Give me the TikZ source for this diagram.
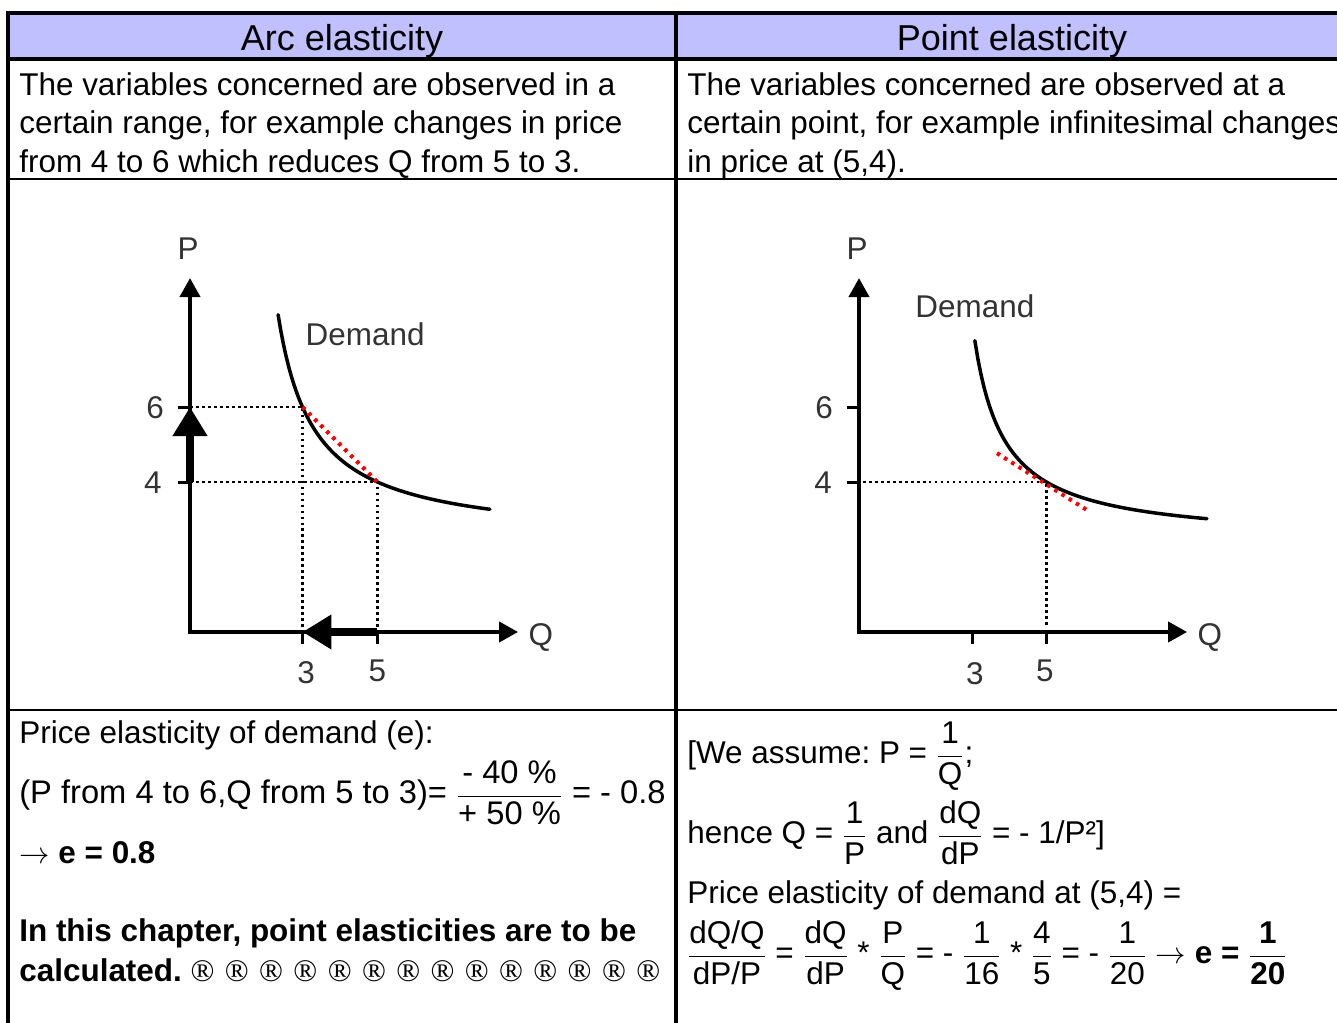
\documentclass[tikz,border=0pt]{standalone}
\usepackage{amsmath}
\usepackage{fontspec}
\setmainfont{Liberation Sans}
\newfontfamily\regfont{Liberation Serif}
\usetikzlibrary{arrows.meta}
\definecolor{hdrblue}{RGB}{192,192,255}
\definecolor{lblgray}{RGB}{51,51,51}
\newcommand\bodyfont{\fontsize{17.9}{21.9}\selectfont}
\newcommand\headfont{\fontsize{20.5}{24}\selectfont}
\newcommand\tfr[2]{\dfrac{\text{#1}}{\text{#2}}}
\frenchspacing

\begin{document}
\begin{tikzpicture}[x=0.02cm, y=0.02cm,
  body/.style={font=\bodyfont, inner sep=0pt, anchor=base west},
  head/.style={font=\headfont, inner sep=0pt, anchor=base},
  lbl/.style={font=\bodyfont, text=lblgray, inner sep=0pt},
  thickrule/.style={line width=0.08cm},
  thinrule/.style={line width=0.03cm},
  axis/.style={line width=0.08cm, {Triangle[length=0.38cm, width=0.4cm]}-{Triangle[length=0.38cm, width=0.4cm]}},
  tick/.style={line width=0.06cm},
  guide/.style={line width=0.05cm, dash pattern=on 0.055cm off 0.065cm},
  chord/.style={red, line width=0.08cm, dash pattern=on 0.07cm off 0.1cm},
  curve/.style={line width=0.07cm, line cap=round},
  bigarrow/.style={line width=0.17cm, -{Triangle[length=0.58cm, width=0.66cm]}}]
  \useasboundingbox (0,0) rectangle (1337,1023);
  \clip (0,0) rectangle (1337,1023);

  % table frame
  \fill[hdrblue] (8,1010) rectangle (1345,964);
  \draw[thickrule] (8,-5) -- (8,1010) -- (1345,1010);
  \draw[thickrule] (6,964) -- (1345,964);
  \draw[thickrule] (676,1012) -- (676,-5);
  \draw[thinrule] (8,964) -- (8,-5);
  \draw[thinrule] (8,844) -- (1345,844);
  \draw[thinrule] (8,313) -- (1345,313);

  % headers
  \node[head] (arcHead) at (342,972) {Arc elasticity};
  \node[head] (pointHead) at (1012,972) {Point elasticity};

  % descriptions
  \node[body] (arcTxtA) at (19,927) {The variables concerned are observed in a};
  \node[body] (arcTxtB) at (19,889) {certain range, for example changes in price};
  \node[body] (arcTxtC) at (19,850) {from 4 to 6 which reduces Q from 5 to 3.};
  \node[body] (ptTxtA) at (687,927) {The variables concerned are observed at a};
  \node[body] (ptTxtB) at (687,889) {certain point, for example infinitesimal changes};
  \node[body] (ptTxtC) at (687,850) {in price at (5,4).};

  % arc elasticity chart
  \begin{scope}[shift={(190,391)}, x=0.75cm, y=0.75cm]
    \coordinate (arcO) at (0,0);
    \coordinate (arcPtip) at (0,9.44);
    \coordinate (arcQtip) at (8.75,0);
    \coordinate (arcA) at (3,6);
    \coordinate (arcB) at (5,4);
    \draw[guide] (0,6) -| (3,0);
    \draw[guide] (0,4) -| (5,0);
    \draw[curve] plot[domain=2.35:8, samples=80] (\x, {2.4 + 5.76/(\x-1.4)});
    \draw[chord] (arcA) -- (arcB);
    \draw[axis] (arcPtip) -- (arcO) -- (arcQtip);
    \draw[tick] (0,6) -- (-0.32,6);
    \draw[tick] (0,4) -- (-0.32,4);
    \draw[tick] (3,0) -- (3,-0.33);
    \draw[tick] (5,0) -- (5,-0.33);
    \draw[bigarrow] (0,4) -- (0,6);
    \draw[bigarrow] (5,0) -- (3,0);
    \node[lbl] (arcP) at (-0.05,10.22) {P};
    \node[lbl] (arcQ) at (9.36,-0.15) {Q};
    \node[lbl] (arcSix) at (-0.93,5.98) {6};
    \node[lbl] (arcFour) at (-0.99,3.98) {4};
    \node[lbl] (arcThree) at (3.1,-1.09) {3};
    \node[lbl] (arcFive) at (5,-1.03) {5};
    \node[lbl] (arcDem) at (4.67,7.93) {Demand};
  \end{scope}

  % point elasticity chart
  \begin{scope}[shift={(859,391)}, x=0.75cm, y=0.75cm]
    \coordinate (ptO) at (0,0);
    \coordinate (ptPtip) at (0,9.44);
    \coordinate (ptQtip) at (8.75,0);
    \coordinate (ptTanA) at (3.68,4.77);
    \coordinate (ptTanB) at (6.16,3.2);
    \draw[guide] (0.1,4) -| (5,0.15);
    \draw[curve] plot[domain=3.09:9.28, samples=80] (\x, {2.4 + 4.35/(\x-2.28)});
    \draw[chord] (ptTanA) -- (ptTanB);
    \draw[axis] (ptPtip) -- (ptO) -- (ptQtip);
    \draw[tick] (0,6) -- (-0.32,6);
    \draw[tick] (0,4) -- (-0.32,4);
    \draw[tick] (3.04,0) -- (3.04,-0.33);
    \draw[tick] (5,0) -- (5,-0.33);
    \node[lbl] (ptP) at (-0.05,10.22) {P};
    \node[lbl] (ptQ) at (9.36,-0.15) {Q};
    \node[lbl] (ptSix) at (-0.93,5.98) {6};
    \node[lbl] (ptFour) at (-0.96,3.98) {4};
    \node[lbl] (ptThree) at (3.09,-1.11) {3};
    \node[lbl] (ptFive) at (4.96,-1.03) {5};
    \node[lbl] (ptDem) at (3.09,8.7) {Demand};
  \end{scope}

  % arc elasticity result
  \node[body] (arcEqA) at (19,279) {Price elasticity of demand (e):};
  \node[body, font=\fontsize{18.6}{22}\selectfont] (arcEqB) at (19,219) {(P from 4 to 6,Q from 5 to 3)= $\tfr{- 40 \%}{+ 50 \%}$ = - 0.8};
  \node[body] (arcEqC) at (19,159) {$\rightarrow$ \textbf{e = 0.8}};
  \node[body] (arcNoteA) at (19,81) {\textbf{In this chapter, point elasticities are to be}};
  \node[body] (arcNoteB) at (19,41) {\textbf{calculated.} {\regfont\spaceskip=0.33em ® ® ® ® ® ® ® ® ® ® ® ® ® ®}};

  % point elasticity result
  \node[body] (ptEqA) at (687,259) {[We assume: P = $\tfr{1}{Q}$;};
  \node[body] (ptEqB) at (687,179) {hence Q = $\tfr{1}{P}$ and $\tfr{dQ}{dP}$ = - 1/P²]};
  \node[body] (ptEqC) at (687,119) {Price elasticity of demand at (5,4) =};
  \node[body] (ptEqD) at (687,59) {$\tfr{dQ/Q}{dP/P}$ = $\tfr{dQ}{dP}$ * $\tfr{P}{Q}$ = - $\tfr{1}{16}$ * $\tfr{4}{5}$ = - $\tfr{1}{20}$ $\rightarrow$ \textbf{e =} $\tfr{\textbf{1}}{\textbf{20}}$};
\end{tikzpicture}
\end{document}
